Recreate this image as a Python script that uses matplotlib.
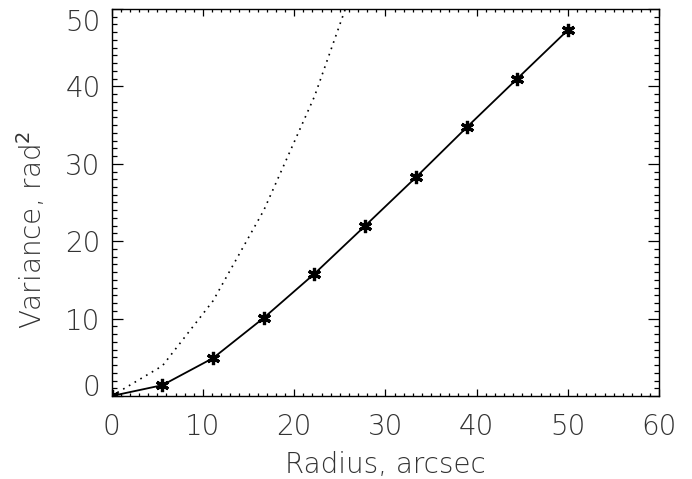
import matplotlib
matplotlib.use("Agg")
import matplotlib.pyplot as plt
from matplotlib.ticker import MultipleLocator

# Data
radius = [0.0, 5.56, 11.11, 16.67, 22.22, 27.78, 33.33, 38.89, 44.44, 50.0]
variance = [0.0, 1.4, 4.9, 10.1, 15.8, 22.0, 28.25, 34.7, 41.0, 47.3]

radius_dot = [0.0, 5.56, 11.11, 16.67, 22.22, 27.78]
variance_dot = [0.0, 3.9, 12.3, 24.0, 38.7, 57.3]

xticks = [0, 10, 20, 30, 40, 50, 60]
yticks = [0, 10, 20, 30, 40, 50]

fig = plt.figure(figsize=(6.92, 4.79), dpi=100)
ax = fig.add_axes([0.1614, 0.1733, 0.7913, 0.8079])

ax.plot(radius_dot, variance_dot, color="black", linewidth=1.2,
        linestyle=(0, (1, 3)), dash_capstyle="butt")
ax.plot(radius, variance, color="black", linewidth=1.3,
        marker=(6, 2, 0), markersize=9.5, markeredgewidth=2.3)

ax.set_xlim(0, 60)
ax.set_ylim(0, 50)
ax.set_xticks(xticks)
ax.set_yticks(yticks)
ax.xaxis.set_minor_locator(MultipleLocator(1))
ax.yaxis.set_minor_locator(MultipleLocator(1))

tcolor = "#333333"
ax.tick_params(axis="both", which="both", direction="in", top=True, right=True,
               color="black", width=0.9)
ax.tick_params(axis="x", which="major", length=5, pad=12, labelsize=20, labelcolor=tcolor)
ax.tick_params(axis="x", which="minor", length=2.5)
ax.tick_params(axis="y", which="major", length=8, pad=8, labelsize=20, labelcolor=tcolor)
ax.tick_params(axis="y", which="minor", length=3.6)

for s in ax.spines.values():
    s.set_linewidth(1.0)

for lab in ax.get_xticklabels() + ax.get_yticklabels():
    lab.set_fontweight("light")

ylabs = ax.get_yticklabels()
ylabs[0].set_va("baseline")
ylabs[-1].set_va("top")

ax.set_xlabel("Radius, arcsec", fontsize=20, color=tcolor, fontweight="light")
ax.set_ylabel("Variance, rad$^2$", fontsize=20, color=tcolor, fontweight="light")
ax.xaxis.set_label_coords(0.5, -0.178)
ax.xaxis.label.set_va("center")
ax.yaxis.set_label_coords(-0.1455, 0.43)
ax.yaxis.label.set_va("center")

fig.savefig("out.png", dpi=100)
